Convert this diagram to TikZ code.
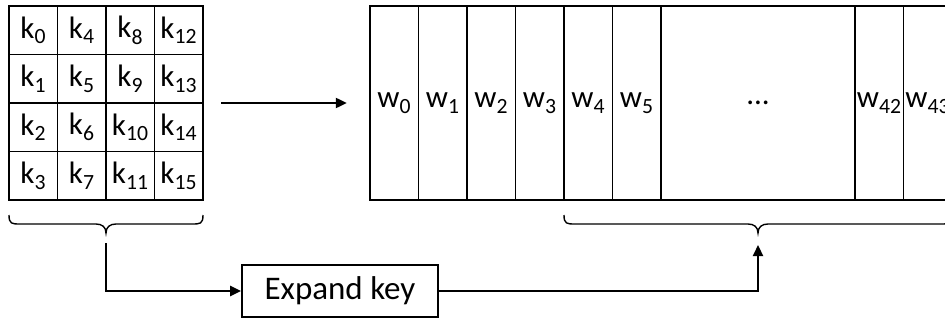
\documentclass[tikz,border=0pt]{standalone}
\usepackage{fontspec}
\setmainfont{Carlito}
\usetikzlibrary{arrows.meta}
\begin{document}
\begin{tikzpicture}[x=1pt,y=-1pt,
  lbl/.style={font=\fontsize{31}{37}\selectfont},
  cell/.style={draw,line width=1.9pt,minimum width=48.5pt,minimum height=48.5pt,inner sep=0pt,lbl},
  wcell/.style={draw,line width=1.9pt,minimum width=48.5pt,minimum height=194pt,inner sep=0pt,lbl},
  arr/.style={line width=2.2pt,-{Triangle[length=11pt,width=10pt]}},
  bracel/.style={line width=1.4pt},
  keybox/.style={draw,line width=1.7pt,minimum width=196pt,minimum height=52pt,inner sep=0pt,font=\fontsize{33}{39}\selectfont}]
\useasboundingbox (0,0) rectangle (945,321);
\clip (0,0) rectangle (945,321);
% key grid
\foreach \c in {0,...,3}{
  \foreach \r in {0,...,3}{
    \pgfmathtruncatemacro\n{\r+4*\c}
    \node[cell] (k\n) at ({33.25+48.5*\c},{30.25+48.5*\r}) {k\textsubscript{\n}};
  }
}
\node[minimum width=194pt,minimum height=194pt,inner sep=0pt] (kgrid) at (106,103) {};
% w cells
\foreach \i in {0,...,5}{
  \node[wcell] (w\i) at ({394.25+48.5*\i},103) {w\textsubscript{\i}};
}
\node[wcell,minimum width=194pt] (wdots) at (758,103) {...};
\node[wcell] (w42) at (879.25,103) {w\textsubscript{42}};
\node[wcell] (w43) at (927.75,103) {w\textsubscript{43}};
\node[minimum width=582pt,minimum height=194pt,inner sep=0pt] (wbox) at (661,103) {};
% top arrow
\draw[arr,shorten <=18pt,shorten >=23pt] (kgrid.east) -- (wbox.west);
% braces
\draw[bracel] (9,215)
  .. controls (9,224) and (12,224) .. (20,224) -- (96,224)
  .. controls (102,224) and (106,227) .. (106,233)
  .. controls (106,227) and (110,224) .. (116,224) -- (192,224)
  .. controls (200,224) and (203,224) .. (203,215);
\draw[bracel] (564,215)
  .. controls (564,224) and (567,224) .. (575,224) -- (748,224)
  .. controls (754,224) and (758,227) .. (758,233)
  .. controls (758,227) and (762,224) .. (768,224) -- (941,224)
  .. controls (949,224) and (952,224) .. (952,215);
% expand key
\node[keybox] (expand) at (340,291) {Expand key};
\coordinate (ls) at (106,243);
\coordinate (re) at (758,245);
\draw[arr] (ls) |- (expand.west);
\draw[arr] (expand.east) -| (re);
\end{tikzpicture}
\end{document}
